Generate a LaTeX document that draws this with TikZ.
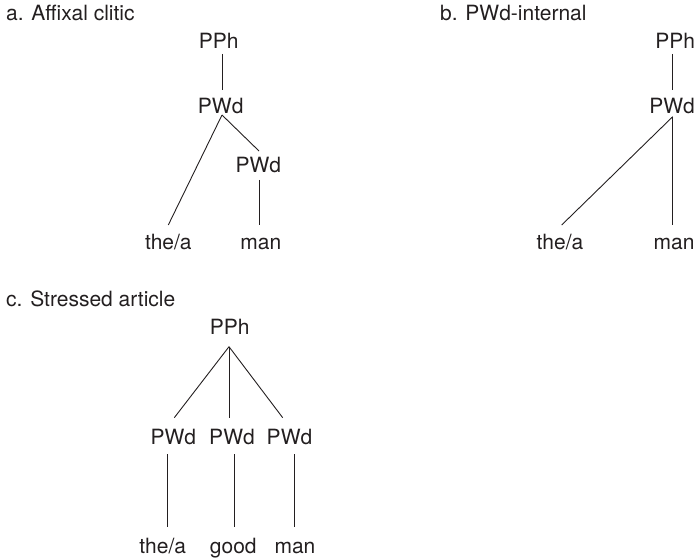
\documentclass[tikz,border=0pt]{standalone}
\usepackage{fontspec}
\setmainfont{TeX Gyre Heros}
\usetikzlibrary{calc}
\definecolor{ink}{HTML}{231F20}
\begin{document}
\begin{tikzpicture}[x=1pt,y=-1pt,
  lbl/.style={anchor=base,inner sep=0pt,text=ink,font=\fontsize{21}{25}\selectfont},
  ttl/.style={anchor=base west,inner sep=0pt,text=ink,font=\fontsize{21}{25}\selectfont},
  branch/.style={draw=ink,line width=0.9pt}]
\useasboundingbox (0,0) rectangle (697,559);
% panel a
\node[ttl] (ta) at (6,20.7) {a. Affixal clitic};
\node[lbl] (pa) at (218.7,49) {PPh};
\node[lbl] (wa) at (220.7,114) {PWd};
\node[lbl] (wa2) at (258.3,173) {PWd};
\node[lbl] (thea) at (168.3,250) {the/a};
\node[lbl] (mana) at (260.8,250) {man};
\draw[branch] ($(pa.base)+(3.3,5)$) -- ($(wa.base)+(1.3,-24)$);
\draw[branch] ($(wa.base)+(1.3,1)$) -- ($(thea.base)+(0,-25)$);
\draw[branch] ($(wa.base)+(1.3,1)$) -- ($(wa2.base)+(0.7,-22)$);
\draw[branch] ($(wa2.base)+(0.7,7)$) -- ($(mana.base)+(-1.8,-25)$);
% panel b
\node[ttl] (tb) at (440,20.7) {b. PWd-internal};
\node[lbl] (pb) at (675.3,49) {PPh};
\node[lbl] (wb) at (672,114) {PWd};
\node[lbl] (theb) at (560,250) {the/a};
\node[lbl] (manb) at (674,250) {man};
\draw[branch] ($(pb.base)+(-2.6,5)$) -- ($(wb.base)+(0.7,-24)$);
\draw[branch] ($(wb.base)+(0.7,2.7)$) -- ($(theb.base)+(1.7,-25)$);
\draw[branch] ($(wb.base)+(0.7,2.7)$) -- ($(manb.base)+(-1.3,-25)$);
% panel c
\node[ttl] (tc) at (6,306.7) {c. Stressed article};
\node[lbl] (pc) at (229.7,334.3) {PPh};
\node[lbl] (wc1) at (173.3,444.3) {PWd};
\node[lbl] (wc2) at (232,444.3) {PWd};
\node[lbl] (wc3) at (289.5,444.3) {PWd};
\node[lbl] (lc1) at (162.7,553.3) {the/a};
\node[lbl] (lc2) at (233.3,553.3) {good};
\node[lbl] (lc3) at (295,553.3) {man};
\draw[branch] ($(pc.base)+(-0.7,12.4)$) -- ($(wc1.base)+(1,-26.6)$);
\draw[branch] ($(pc.base)+(-0.7,12.4)$) -- ($(wc2.base)+(-3,-26.6)$);
\draw[branch] ($(pc.base)+(-0.7,12.4)$) -- ($(wc3.base)+(-6.8,-26.6)$);
\draw[branch] ($(wc1.base)+(-5.6,9.7)$) -- ($(lc1.base)+(5,-26)$);
\draw[branch] ($(wc2.base)+(2,9.7)$) -- ($(lc2.base)+(0.7,-26)$);
\draw[branch] ($(wc3.base)+(4.8,9.7)$) -- ($(lc3.base)+(-0.7,-26)$);
\end{tikzpicture}
\end{document}
